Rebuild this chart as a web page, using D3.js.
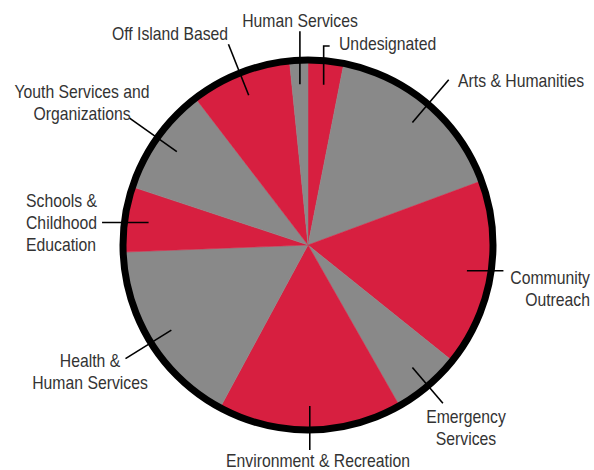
<!DOCTYPE html>
<html>
<head>
<meta charset="utf-8">
<script src="https://cdn.jsdelivr.net/npm/d3@7"></script>
<style>
  html, body { margin: 0; padding: 0; background: #fff; }
  svg text { font-family: "Liberation Sans", Arial, sans-serif; font-size: 19px; fill: #333; }
</style>
</head>
<body>
<svg id="chart" width="594" height="470"></svg>
<script>
// Data (clockwise from 12 o'clock), share of total in %
const categories = [
  "Undesignated", "Arts & Humanities", "Community Outreach", "Emergency Services",
  "Environment & Recreation", "Health & Human Services", "Schools & Childhood Education",
  "Youth Services and Organizations", "Off Island Based", "Human Services"
];
const values = [3.1, 16.25, 16.4, 6.0, 16.1, 16.5, 5.7, 9.5, 8.8, 1.6];
const labelLines = [
  ["Undesignated"], ["Arts & Humanities"], ["Community", "Outreach"], ["Emergency", "Services"],
  ["Environment & Recreation"], ["Health &", "Human Services"], ["Schools &", "Childhood", "Education"],
  ["Youth Services and", "Organizations"], ["Off Island Based"], ["Human Services"]
];
const palette = ["#d71f40", "#898989"];

// Label layout (annotation placement only)
const layout = {
  "Undesignated":                    {mode: "elbow",      r2: 200, tx: 339, ty: 50,  anchor: "start"},
  "Arts & Humanities":               {mode: "radial",     r2: 217, tx: 458, ty: 87,  anchor: "start"},
  "Community Outreach":              {mode: "horizontal", r2: 198, tx: 590, ty: 284, anchor: "end"},
  "Emergency Services":              {mode: "radial",     r2: 208, tx: 466, ty: 423, anchor: "middle"},
  "Environment & Recreation":        {mode: "vertical",   r2: 205, tx: 318, ty: 467, anchor: "middle"},
  "Health & Human Services":         {mode: "radial",     r2: 215, tx: 90,  ty: 367, anchor: "middle"},
  "Schools & Childhood Education":   {mode: "horizontal", r2: 208, tx: 26,  ty: 207, anchor: "start"},
  "Youth Services and Organizations":{mode: "radial",     r2: 219, tx: 82,  ty: 98,  anchor: "middle"},
  "Off Island Based":                {mode: "radial",     r2: 216, tx: 170, ty: 40,  anchor: "middle"},
  "Human Services":                  {mode: "vertical",   r2: 214, tx: 300, ty: 27,  anchor: "middle"}
};

const cx = 308, cy = 245, R = 185, rInner = 161, lineH = 22, squeeze = 0.83;
const svg = d3.select("#chart");
const g = svg.append("g").attr("transform", `translate(${cx},${cy})`);

const pie = d3.pie().sort(null).value(d => d.value);
const arcs = pie(categories.map((c, i) => ({name: c, value: values[i], lines: labelLines[i]})));
const arc = d3.arc().innerRadius(0).outerRadius(R);
const color = d3.scaleOrdinal().domain(categories).range(categories.map((c, i) => palette[i % 2]));

g.selectAll("path.slice").data(arcs).join("path")
  .attr("class", "slice")
  .attr("d", arc)
  .attr("fill", d => color(d.data.name))
  .attr("stroke", d => color(d.data.name))
  .attr("stroke-width", 0.5);

g.append("circle").attr("r", R).attr("fill", "none").attr("stroke", "#000").attr("stroke-width", 7);

const polar = (r, a) => [r * Math.sin(a), -r * Math.cos(a)];

arcs.forEach(d => {
  const L = layout[d.data.name];
  const mid = (d.startAngle + d.endAngle) / 2;
  const p1 = polar(rInner, mid);
  let pts;
  if (L.mode === "radial") {
    pts = [p1, polar(L.r2, mid)];
  } else if (L.mode === "vertical") {
    const p2 = polar(L.r2, mid);
    pts = [p1, [p1[0], p2[1]]];
  } else if (L.mode === "horizontal") {
    const p2 = polar(L.r2, mid);
    pts = [p1, [p2[0], p1[1]]];
  } else { // elbow
    const p2 = polar(L.r2, mid);
    pts = [p1, [p1[0], p2[1]], [p1[0] + 6, p2[1]]];
  }
  g.append("path")
    .attr("d", d3.line()(pts))
    .attr("fill", "none").attr("stroke", "#000").attr("stroke-width", 1.6);

  const t = svg.append("text")
    .attr("text-anchor", L.anchor)
    .attr("transform", `translate(${L.tx},${L.ty}) scale(${squeeze},1)`);
  d.data.lines.forEach((ln, i) => {
    t.append("tspan").attr("x", 0).attr("y", i * lineH).text(ln);
  });
});
</script>
</body>
</html>
